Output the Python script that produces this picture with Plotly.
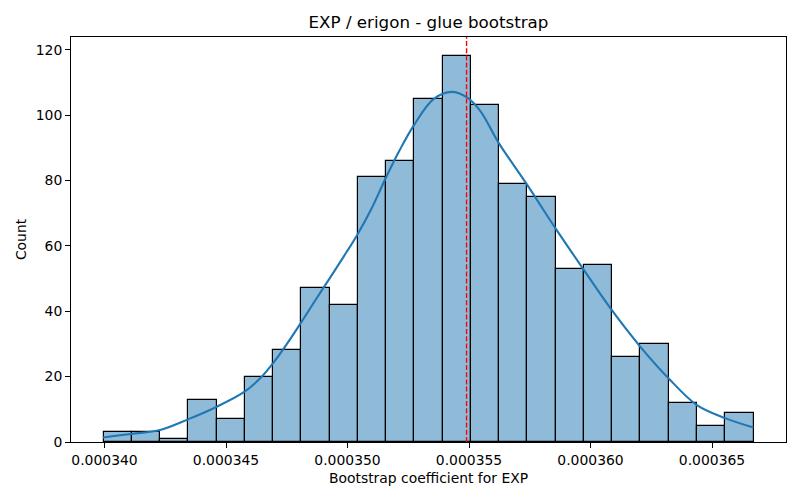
import plotly.graph_objects as go

# ---- data ----
bin_start = 0.000339959
bin_width = 0.000001163
counts = [3, 3, 1, 13, 7, 20, 28, 47, 42, 81, 86, 105, 118, 103, 79, 75, 53, 54, 26, 30, 12, 5, 9]

kde_x = [339.934, 341.128, 342.292, 343.457, 344.626, 345.749, 346.407, 346.955, 347.506,
         348.095, 348.671, 349.259, 349.823, 350.387, 350.975, 351.551, 352.128, 352.716,
         353.539, 354.296, 354.914, 355.461, 356.214, 357.383, 358.547, 359.712, 360.811,
         362.045, 363.210, 364.379, 365.543, 366.708]
kde_y = [1.4, 2.5, 3.7, 7.0, 10.8, 15.3, 19.5, 24.3, 30.0,
         36.6, 43.3, 50.0, 56.5, 63.2, 71.2, 80.4, 89.0, 96.7,
         104.9, 107.1, 105.4, 101.3, 91.6, 78.8, 65.5, 52.8, 41.0,
         29.2, 19.5, 11.3, 7.3, 4.4]
kde_x = [v * 1e-6 for v in kde_x]

mean_line = 0.0003549
x_ticks = [0.000340, 0.000345, 0.000350, 0.000355, 0.000360, 0.000365]
y_ticks = [0, 20, 40, 60, 80, 100, 120]

title = "EXP / erigon - glue bootstrap"
x_label = "Bootstrap coefficient for EXP"
y_label = "Count"

# ---- figure ----
centers = [bin_start + bin_width * (i + 0.5) for i in range(len(counts))]
data_min = bin_start
data_max = bin_start + bin_width * len(counts)
pad = 0.05 * (data_max - data_min)

fig = go.Figure()
fig.add_trace(go.Bar(
    x=centers, y=counts, width=bin_width,
    marker=dict(color="rgba(31,119,180,0.5)", line=dict(color="black", width=1.2)),
    showlegend=False, hoverinfo="skip",
))
fig.add_trace(go.Scatter(
    x=kde_x, y=kde_y, mode="lines", line=dict(color="#1f77b4", width=2.1, shape="spline"),
    showlegend=False, hoverinfo="skip",
))
fig.add_shape(type="line", xref="x", yref="paper", x0=mean_line, x1=mean_line, y0=0, y1=1,
              line=dict(color="red", width=1.4, dash="5px,2.2px"))

# page body adds an 8px offset, so the figure is 792x492 and margins are shifted
W, H = 792, 492
font = "DejaVu Sans, sans-serif"
fig.update_layout(
    width=W, height=H,
    margin=dict(l=63, r=14, t=29, b=58),
    paper_bgcolor="white", plot_bgcolor="white",
    bargap=0,
    font=dict(family=font, size=13.9, color="black"),
    title=dict(text=title, x=0.5, xref="paper", xanchor="center",
               y=1 - 14.5 / H, yref="container", yanchor="middle",
               font=dict(family=font, size=16.7, color="black")),
)
fig.update_xaxes(
    range=[data_min - pad, data_max + pad],
    tickvals=x_ticks, tickformat=".6f",
    showline=True, linecolor="black", linewidth=1.1, mirror=True,
    ticks="outside", ticklen=4.9, tickwidth=1.1, tickcolor="black",
    showgrid=False, zeroline=False, automargin=False,
    title=dict(text=x_label, standoff=6, font=dict(family=font, size=13.9)),
)
fig.update_yaxes(
    range=[0, 123.9],
    tickvals=y_ticks,
    showline=True, linecolor="black", linewidth=1.1, mirror=True,
    ticks="outside", ticklen=4.9, tickwidth=1.1, tickcolor="black",
    showgrid=False, zeroline=False, automargin=False,
    title=dict(text=y_label, standoff=5, font=dict(family=font, size=13.9)),
)

fig.write_html("out.html")
